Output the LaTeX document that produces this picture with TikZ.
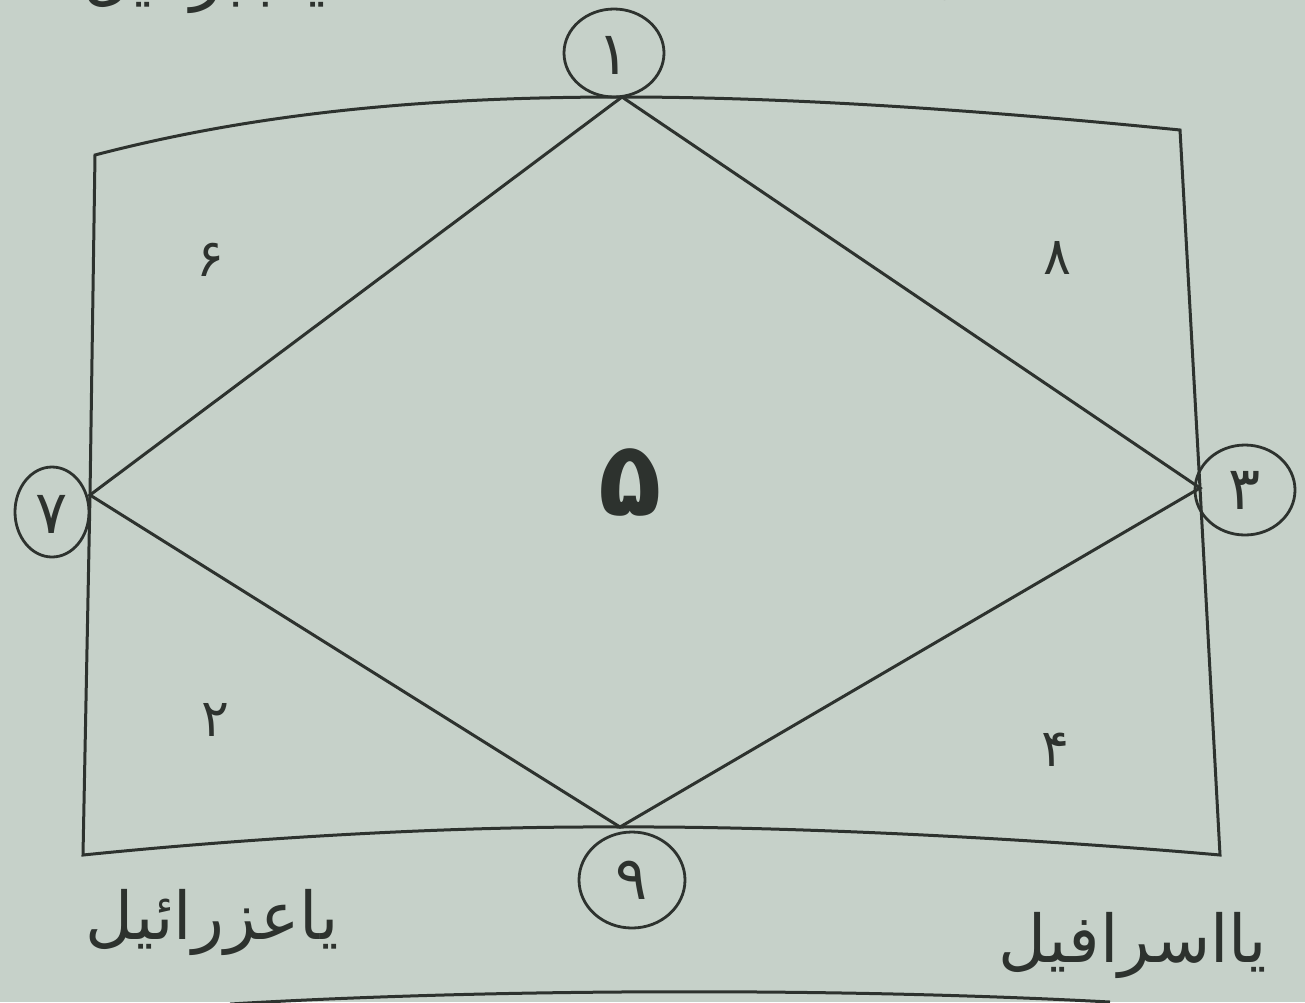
\documentclass[tikz,border=0pt]{standalone}
\usepackage{fontspec}
\newfontfamily\arabicfont[Script=Arabic]{DejaVu Sans}
\TeXXeTstate=1
\definecolor{paper}{RGB}{198,209,201}
\definecolor{ink}{RGB}{45,50,46}
\begin{document}
\begin{tikzpicture}[x=0.5pt,y=-0.5pt,
  frame/.style={draw=ink,line width=1.5pt},
  ring/.style={draw=ink,line width=1.4pt},
  cnum/.style={text=ink,font=\arabicfont\fontsize{30}{34}\selectfont,inner sep=0pt},
  rnum/.style={text=ink,font=\arabicfont\fontsize{26}{30}\selectfont,inner sep=0pt},
  bignum/.style={text=ink,font=\arabicfont\bfseries\fontsize{52}{56}\selectfont,inner sep=0pt},
  angel/.style={text=ink,font=\arabicfont\fontsize{33}{37}\selectfont,inner sep=0pt}]
\useasboundingbox (0,0) rectangle (1305,1002);
\clip (0,0) rectangle (1305,1002);
\fill[paper] (0,0) rectangle (1305,1002);
% corner and vertex coordinates
\coordinate (tl) at (95,155);
\coordinate (tr) at (1180,130);
\coordinate (bl) at (83,855);
\coordinate (br) at (1220,855);
\coordinate (vt) at (622,97);
\coordinate (vl) at (90,495);
\coordinate (vb) at (620,827);
\coordinate (vr) at (1200,488);
% outer frame
\draw[frame] (tl) .. controls (260,112) and (430,97) .. (vt)
  .. controls (800,97) and (1000,112) .. (tr) -- (vr) -- (br)
  .. controls (1050,840) and (800,826) .. (vb)
  .. controls (450,826) and (250,838) .. (bl) -- (vl) -- cycle;
% diamond
\draw[frame] (vt) -- (vr) -- (vb) -- (vl) -- cycle;
% circled vertex numbers
\draw[ring] (614,53) ellipse [x radius=50,y radius=44];
\node[cnum] (n1) at (614,55) {\beginR ۱\endR};
\draw[ring] (52,512) ellipse [x radius=37,y radius=45];
\node[cnum] (n7) at (52,514) {\beginR ۷\endR};
\draw[ring] (1245,490) ellipse [x radius=50,y radius=45];
\node[cnum] (n3) at (1245,490) {\beginR ۳\endR};
\draw[ring] (632,880) ellipse [x radius=53,y radius=48];
\node[cnum] (n9) at (632,880) {\beginR ۹\endR};
% region numbers
\node[rnum] (n6) at (210,260) {\beginR ۶\endR};
\node[rnum] (n8) at (1057,258) {\beginR ۸\endR};
\node[rnum] (n2) at (215,720) {\beginR ۲\endR};
\node[rnum] (n4) at (1055,750) {\beginR ۴\endR};
\node[bignum] (n5) at (630,482) {\beginR ۵\endR};
% names
\node[angel] (az) at (212,922) {\beginR یاعزرائیل\endR};
\node[angel] (is) at (1133,945) {\beginR یااسرافیل\endR};
\node[angel] (jb) at (205,-20) {\beginR یاجبرائیل\endR};
\node[angel] (mk) at (1045,-30) {\beginR یامیکائیل\endR};
% next frame edge at bottom
\coordinate (nl) at (230,1004);
\coordinate (nr) at (1110,1002);
\draw[frame] (nl) .. controls (500,988) and (850,988) .. (nr);
\end{tikzpicture}
\end{document}
